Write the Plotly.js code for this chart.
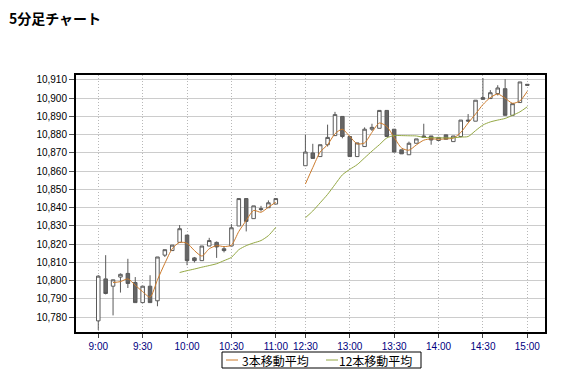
<!DOCTYPE html>
<html><head><meta charset="utf-8">
<script src="https://cdn.plot.ly/plotly-3.0.1.min.js"></script>
<style>html,body{margin:0;padding:0;background:#fff;} #chart{width:563px;height:373px;}</style>
</head><body><div id="chart"></div>
<script>
// 5-minute slots; the three entries after 11:00 are the empty lunch-break gap
const times = ['9:00','9:05','9:10','9:15','9:20','9:25','9:30','9:35','9:40','9:45','9:50','9:55',
  '10:00','10:05','10:10','10:15','10:20','10:25','10:30','10:35','10:40','10:45','10:50','10:55','11:00',
  '11:05','11:10','11:15',
  '12:30','12:35','12:40','12:45','12:50','12:55','13:00','13:05','13:10','13:15','13:20','13:25',
  '13:30','13:35','13:40','13:45','13:50','13:55','14:00','14:05','14:10','14:15','14:20','14:25',
  '14:30','14:35','14:40','14:45','14:50','14:55','15:00'];

const openP = [10778,10801,10797,10802,10804,10799,10788,10797,10789,10814,10816.5,10821,10825,10812.5,10811,10819,10821,10817.5,10819,10830,10845,10834,10839.5,10840,10842,
  null,null,null,
  10863,10870,10868,10874.5,10879.5,10890,10879,10868,10873.5,10883,10883.5,10893.3,10883,10871.7,10869,10875.3,10879.3,10879.3,10876.8,10879.9,10876.2,10879,10888,10887.4,10900.3,10899.8,10902.5,10905.2,10890.6,10897.6,10907.6];
const highP = [10803,10814,10800.5,10804,10812,10802,10797,10803,10813,10817,10819.5,10830.5,10825,10813,10819,10823.5,10821.5,10818.5,10831,10845,10845,10841,10841,10844,10845,
  null,null,null,
  10880,10875,10874.5,10885.5,10892.5,10890,10879,10875.5,10884,10886,10893.5,10893.3,10883,10871.7,10876.2,10877.7,10886,10879.3,10878.5,10879.9,10879.3,10888,10891.3,10898.9,10911,10904.4,10907.1,10910.4,10897,10908.9,10907.6];
const lowP = [10773,10792.5,10781,10793.5,10796,10788,10788,10788,10786,10813,10816.5,10821,10808.5,10810,10811,10819,10812.5,10815.5,10819,10830,10827,10834,10838,10840,10842,
  null,null,null,
  10863,10867,10868,10873.5,10879.5,10878,10868,10868,10873.5,10882,10883.5,10879,10870.5,10869.5,10869,10875.3,10878.6,10874.5,10876.8,10877.5,10876.2,10878.5,10887,10887.4,10899.4,10899.8,10901.5,10890.6,10890.6,10897.6,10907.1];
const closeP = [10802.5,10793,10800.5,10803.5,10798.5,10788,10797,10788,10813,10817,10819.5,10828.5,10811,10811,10819,10822,10818.5,10816.5,10829,10845,10832.5,10841,10839,10842.7,10845,
  null,null,null,
  10870.5,10867,10874.5,10878.5,10891,10879,10868,10875.5,10883,10884,10893.3,10879,10870.5,10869.5,10875.3,10877.7,10878.6,10877.1,10878.5,10877.5,10879.3,10888,10887.5,10898.9,10899.4,10903,10905.6,10890.6,10897,10908.9,10907.1];

const ma3 = [null,null,10799,10799.5,10801,10797.5,10794,10791,10800.5,10809.5,10817.5,10821,10820.5,10816.5,10813.5,10817.5,10819.2,10818.7,10819.5,10827,10833,10838.5,10837.5,10840.3,10843,
  null,null,null,
  10853,10862,10870.5,10874.5,10880.5,10883,10879,10875,10875.5,10881.3,10886.4,10884.5,10878.5,10872.7,10871.5,10874.4,10877,10877.7,10877.5,10877.7,10878.1,10881.2,10886.4,10891.3,10896.5,10900.3,10902.3,10900,10897.2,10898.5,10903.8];
const ma12 = [null,null,null,null,null,null,null,null,null,null,null,
  10804.5,10805.5,10806.4,10807.4,10808.3,10809.3,10811,10812.8,10817,10819.2,10820.7,10822,10824.7,10829.3,
  null,null,null,
  10834.5,10838.2,10842.7,10847.3,10852.7,10858,10861,10863.6,10867.3,10871,10874.5,10878.2,
  10879.5,10879.5,10879.4,10879.3,10878.5,10878.4,10878.3,10878.3,10878.3,
  10878.7,10879,10882.2,10885.3,10887,10888,10888.9,10890.6,10892.5,10895.3];

const tickTimes = ['9:00','9:30','10:00','10:30','11:00','12:30','13:00','13:30','14:00','14:30','15:00'];
const yTicks = [10780,10790,10800,10810,10820,10830,10840,10850,10860,10870,10880,10890,10900,10910];
const seriesNames = ['3本移動平均','12本移動平均'];
const seriesColors = ['#cc7a2a','#94a844'];

// layout helpers (pixel -> paper)
const L = 76, R = 545, T = 75, B = 332;
const px = x => (x - L) / (R - L);
const py = y => (B - y) / (B - T);

const traces = [
  {type:'candlestick', x: times, open: openP, high: highP, low: lowP, close: closeP,
   increasing:{line:{color:'#5a5a5a', width:1}, fillcolor:'#ffffff'},
   decreasing:{line:{color:'#5a5a5a', width:1}, fillcolor:'#666666'},
   whiskerwidth:0, showlegend:false, hoverinfo:'skip'},
  {type:'scatter', mode:'lines', x: times, y: ma3, name: seriesNames[0], connectgaps:false,
   line:{color: seriesColors[0], width:1, shape:'spline', smoothing:0.7}, showlegend:false},
  {type:'scatter', mode:'lines', x: times, y: ma12, name: seriesNames[1], connectgaps:false,
   line:{color: seriesColors[1], width:1, shape:'spline', smoothing:0.7}, showlegend:false}
];

const cjk = '"Noto Sans CJK JP", "Noto Sans", sans-serif';
const layout = {
  width:563, height:373,
  margin:{l:L, r:563-R, t:T, b:373-B, pad:0},
  paper_bgcolor:'#ffffff', plot_bgcolor:'#ffffff',
  showlegend:false,
  boxgap:0.32,
  title:{text:'<b>5分足チャート</b>', xref:'container', yref:'container', x:9/563, xanchor:'left',
         y:1-19.5/373, yanchor:'middle', font:{family:cjk, size:14, color:'#000'}},
  xaxis:{type:'category', categoryorder:'array', categoryarray: times,
         range:[-3.01, 60.39], tickmode:'array', tickvals: tickTimes, ticktext: tickTimes,
         showgrid:true, gridcolor:'#b8b8b8', griddash:'1px,2px', gridwidth:1,
         showline:true, linecolor:'#000', linewidth:2, mirror:true,
         ticks:'outside', ticklen:4, tickcolor:'#444', tickwidth:1,
         tickfont:{family:'"Liberation Sans", Arial, sans-serif', size:10, color:'#000080'},
         rangeslider:{visible:false}, zeroline:false, fixedrange:true},
  yaxis:{range:[10771.9, 10912.7], tickmode:'array', tickvals: yTicks, tickformat:',',
         showgrid:true, gridcolor:'#cccccc', gridwidth:1,
         showline:true, linecolor:'#000', linewidth:2, mirror:true,
         ticks:'outside', ticklen:5, tickcolor:'#555', tickwidth:1,
         tickfont:{family:'"Liberation Sans", Arial, sans-serif', size:10, color:'#000'},
         zeroline:false, fixedrange:true},
  shapes:[
    {type:'rect', xref:'paper', yref:'paper', x0:px(222), x1:px(421), y0:py(368), y1:py(352),
     line:{color:'#000', width:1}, fillcolor:'#fff', layer:'above'},
    {type:'line', xref:'paper', yref:'paper', x0:px(226), x1:px(238), y0:py(360), y1:py(360),
     line:{color: seriesColors[0], width:1}},
    {type:'line', xref:'paper', yref:'paper', x0:px(326), x1:px(338), y0:py(360), y1:py(360),
     line:{color: seriesColors[1], width:1}}
  ],
  annotations:[
    {text: seriesNames[0], xref:'paper', yref:'paper', x:px(240), y:py(360), xanchor:'left', yanchor:'middle',
     showarrow:false, font:{family:cjk, size:12, color:'#000'}},
    {text: seriesNames[1], xref:'paper', yref:'paper', x:px(337), y:py(360), xanchor:'left', yanchor:'middle',
     showarrow:false, font:{family:cjk, size:12, color:'#000'}}
  ]
};

Plotly.newPlot('chart', traces, layout, {staticPlot:true, displayModeBar:false});
</script>
</body></html>
